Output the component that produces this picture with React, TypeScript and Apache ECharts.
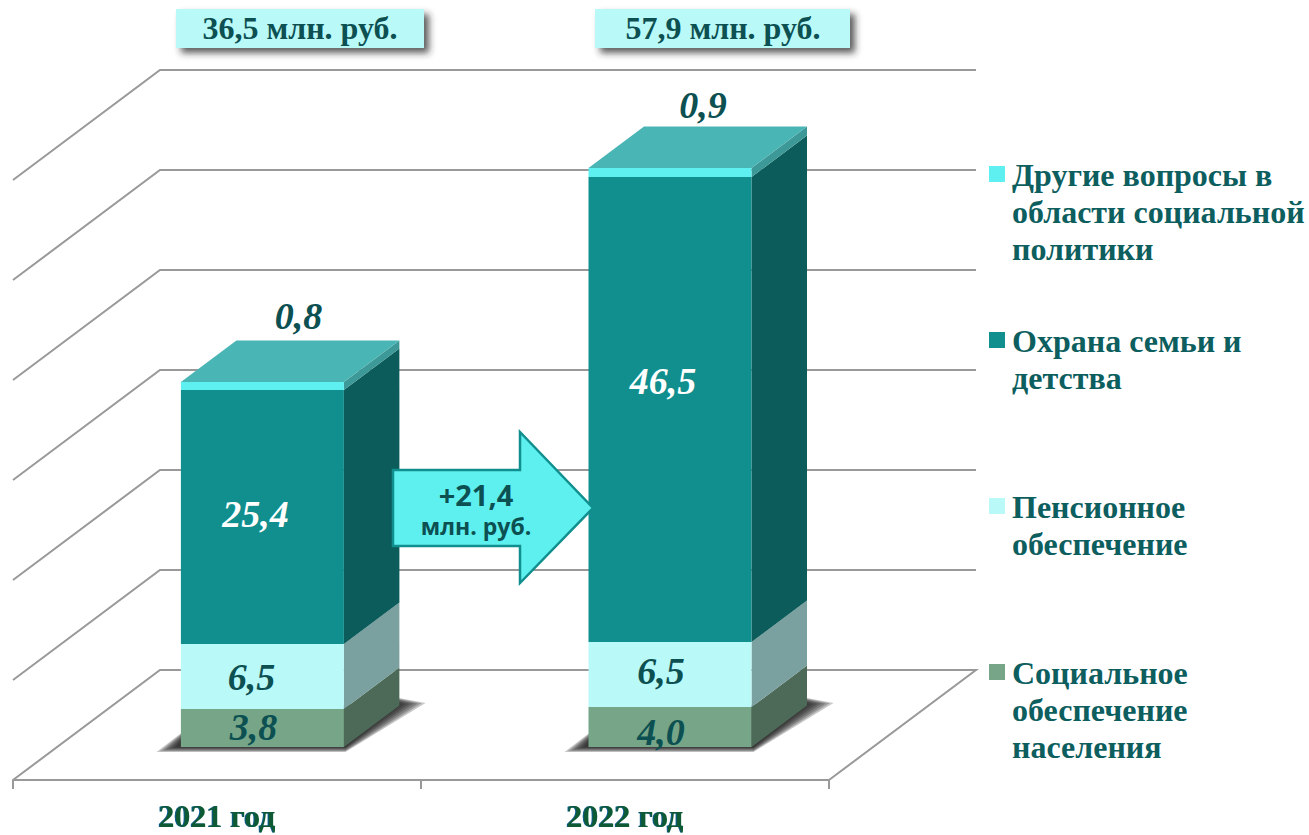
import React, { useEffect, useRef } from "react";
import * as echarts from "echarts";

const categories = ["2021 год", "2022 год"];
const social = [3.8, 4.0];
const pension = [6.5, 6.5];
const family = [25.4, 46.5];
const other = [0.8, 0.9];
const totals = ["36,5 млн. руб.", "57,9 млн. руб."];
const gridTicks = [0, 10, 20, 30, 40, 50, 60];
const deltaLines = ["+21,4", "млн. руб."];
const legendNames = [
  ["Другие вопросы в", "области социальной", "политики"],
  ["Охрана семьи и", "детства"],
  ["Пенсионное", "обеспечение"],
  ["Социальное", "обеспечение", "населения"],
];

const SERIF = "'Liberation Serif', 'Times New Roman', serif";
const DARK = "#0C5052";
const DEPTH = { x: 147, y: -110 };
const BAR = { dx: 45, dy: -33, sx: 55.5, sy: -41.5, w: 163 };

const fmt = (v: number) => v.toFixed(1).replace(".", ",");

function segmentSeries(
  name: string,
  values: number[],
  below: number[],
  front: string,
  side: string,
  textColor: string,
  nudge: number[][],
  isTop: boolean
) {
  return {
    type: "custom",
    name,
    encode: { x: 0, y: [1, 2] },
    data: values.map((v, i) => [i, below[i], below[i] + v, v]),
    renderItem: (_: any, api: any) => {
      const i = api.value(0);
      const p0 = api.coord([i, api.value(1)]);
      const p1 = api.coord([i, api.value(2)]);
      const L = p0[0] + BAR.dx - BAR.w / 2 + (i === 0 ? 0.4 : 0);
      const R = L + BAR.w;
      const yb = p0[1] + BAR.dy;
      const yt = p1[1] + BAR.dy;
      const children: any[] = [
        { type: "polygon", shape: { points: [[R, yb], [R + BAR.sx, yb + BAR.sy], [R + BAR.sx, yt + BAR.sy], [R, yt]] }, style: { fill: side } },
        { type: "rect", shape: { x: L, y: yt, width: BAR.w, height: yb - yt }, style: { fill: front } },
      ];
      if (isTop) {
        children.push({
          type: "polygon",
          shape: { points: [[L, yt], [R, yt], [R + BAR.sx, yt + BAR.sy], [L + BAR.sx, yt + BAR.sy]] },
          style: { fill: "#4AB5B5" },
        });
      }
      const n = nudge[i];
      const lx = (L + R) / 2 + n[0];
      const ly = (isTop ? yt + BAR.sy + n[1] : (yb + yt) / 2 + n[1]) - 1;
      children.push({
        type: "text",
        style: {
          x: lx,
          y: ly,
          text: fmt(api.value(3)),
          fill: textColor,
          font: `italic bold 38px ${SERIF}`,
          align: "center",
          verticalAlign: "middle",
        },
      });
      return { type: "group", children };
    },
  };
}

function buildOption() {
  const b1 = social;
  const b2 = social.map((v, i) => v + pension[i]);
  const b3 = b2.map((v, i) => v + family[i]);
  const zeros = social.map(() => 0);

  const legendColors = ["#5EEFF0", "#108F8E", "#B9F9F8", "#76A687"];
  const legendCenters = [174, 340, 506, 672];

  const graphic: any[] = [];
  const boxes = [
    { x: 176, w: 248 },
    { x: 595, w: 255 },
  ];
  totals.forEach((t, i) => {
    graphic.push({
      type: "rect",
      z: 100,
      shape: { x: boxes[i].x, y: 9, width: boxes[i].w, height: 39 },
      style: { fill: "#B9F9F8", shadowBlur: 7, shadowColor: "rgba(40,40,40,0.75)", shadowOffsetX: 5, shadowOffsetY: 5 },
    });
    graphic.push({
      type: "text",
      z: 101,
      style: {
        x: boxes[i].x + boxes[i].w / 2 + (i === 0 ? 0 : 0.5),
        y: 28,
        text: t,
        fill: DARK,
        font: `bold 32px ${SERIF}`,
        align: "center",
        verticalAlign: "middle",
      },
    });
  });

  graphic.push({
    type: "polygon",
    z: 100,
    shape: { points: [[393, 470], [520, 470], [520, 432], [593, 508], [520, 583], [520, 546], [393, 546]] },
    style: { fill: "#5EEFEF", stroke: "#108F8E", lineWidth: 2.5 },
  });
  deltaLines.forEach((t, i) => {
    graphic.push({
      type: "text",
      z: 101,
      style: {
        x: 476,
        y: i === 0 ? 494 : 526,
        text: t,
        fill: DARK,
        font: `bold ${i === 0 ? 29 : 23}px 'Open Sans', sans-serif`,
        align: "center",
        verticalAlign: "middle",
      },
    });
  });

  legendNames.forEach((lines, i) => {
    graphic.push({
      type: "rect",
      z: 100,
      shape: { x: 989, y: legendCenters[i] - 8, width: 16, height: 16 },
      style: { fill: legendColors[i] },
    });
    lines.forEach((line, j) => {
      graphic.push({
        type: "text",
        z: 100,
        style: {
          x: 1012,
          y: legendCenters[i] + 0.5 + j * 37,
          text: line,
          fill: "#0D5E5E",
          font: `bold 32px ${SERIF}`,
          align: "left",
          verticalAlign: "middle",
        },
      });
    });
  });

  return {
    animation: false,
    backgroundColor: "#ffffff",
    grid: { left: 13, top: 180, width: 816, height: 600, containLabel: false },
    xAxis: {
      type: "category",
      data: categories,
      axisLine: { show: true, lineStyle: { color: "#999999", width: 2 } },
      axisTick: { show: true, alignWithLabel: false, length: 9, lineStyle: { color: "#999999", width: 2 } },
      axisLabel: {
        margin: 21,
        color: "#0E5A35",
        fontFamily: SERIF,
        fontWeight: "bold",
        fontSize: 32,
        lineHeight: 30,
        textShadowColor: "#0A5A8A",
        textShadowBlur: 1,
        textShadowOffsetX: -1,
        textShadowOffsetY: 0,
      },
    },
    yAxis: { type: "value", min: 0, max: 60, interval: 10, show: false },
    graphic,
    series: [
      {
        type: "custom",
        name: "grid",
        encode: { x: 0, y: 1 },
        data: gridTicks.map((v) => [0, v]),
        renderItem: (params: any, api: any) => {
          const cs = params.coordSys;
          const v = api.value(1);
          const y = api.coord([0, v])[1];
          const x0 = cs.x;
          const x1 = cs.x + cs.width;
          const pts: number[][] = [[x0, y], [x0 + DEPTH.x, y + DEPTH.y], [x1 + DEPTH.x, y + DEPTH.y]];
          if (v === 0) pts.push([x1, y]);
          return {
            type: "polyline",
            shape: { points: pts },
            style: { stroke: "#999999", lineWidth: 2, fill: "none" },
          };
        },
      },
      {
        type: "custom",
        name: "shadow",
        encode: { x: 0, y: 1 },
        data: categories.map((_, i) => [i, 0]),
        renderItem: (_: any, api: any) => {
          const p = api.coord([api.value(0), 0]);
          const L = p[0] + BAR.dx - BAR.w / 2;
          const R = L + BAR.w;
          const y = p[1] + BAR.dy;
          const layers = [0, 1, 2, 3, 4, 5, 6];
          return {
            type: "group",
            children: layers.map((e) => ({
              type: "polygon",
              shape: {
                points: [
                  [L - 24 + 3.2 * e, y + 5 - 0.8 * e],
                  [R + 2, y + 5 - 0.8 * e],
                  [R + 82 - 4 * e, y - 44 + 0.2 * e],
                  [R + 50, y - 50 + 0.6 * e],
                  [L + 6, y - 18 + 0.8 * e],
                ],
              },
              style: { fill: "rgba(25,25,25,0.24)" },
            })),
          };
        },
      },
      segmentSeries("Социальное обеспечение населения", social, zeros, "#76A687", "#4D6A59", DARK, [[-9, 0], [-9, 6]], false),
      segmentSeries("Пенсионное обеспечение", pension, b1, "#B9F9F8", "#7AA09F", DARK, [[-11, 1], [-9, -3]], false),
      segmentSeries("Охрана семьи и детства", family, b2, "#108F8E", "#0C5C5C", "#FFFFFF", [[-7, -2], [-7, -28]], false),
      segmentSeries("Другие вопросы в области социальной политики", other, b3, "#5EEFF0", "#3C9997", DARK, [[36, -24], [33, -21]], true),
    ],
  };
}

export default function App() {
  const ref = useRef<HTMLDivElement>(null);
  useEffect(() => {
    if (!ref.current) return;
    const chart = echarts.init(ref.current, undefined, { renderer: "svg" });
    chart.setOption(buildOption() as any);
    return () => chart.dispose();
  }, []);
  return <div ref={ref} style={{ position: "fixed", left: 0, top: 0, width: 1309, height: 835 }} />;
}
